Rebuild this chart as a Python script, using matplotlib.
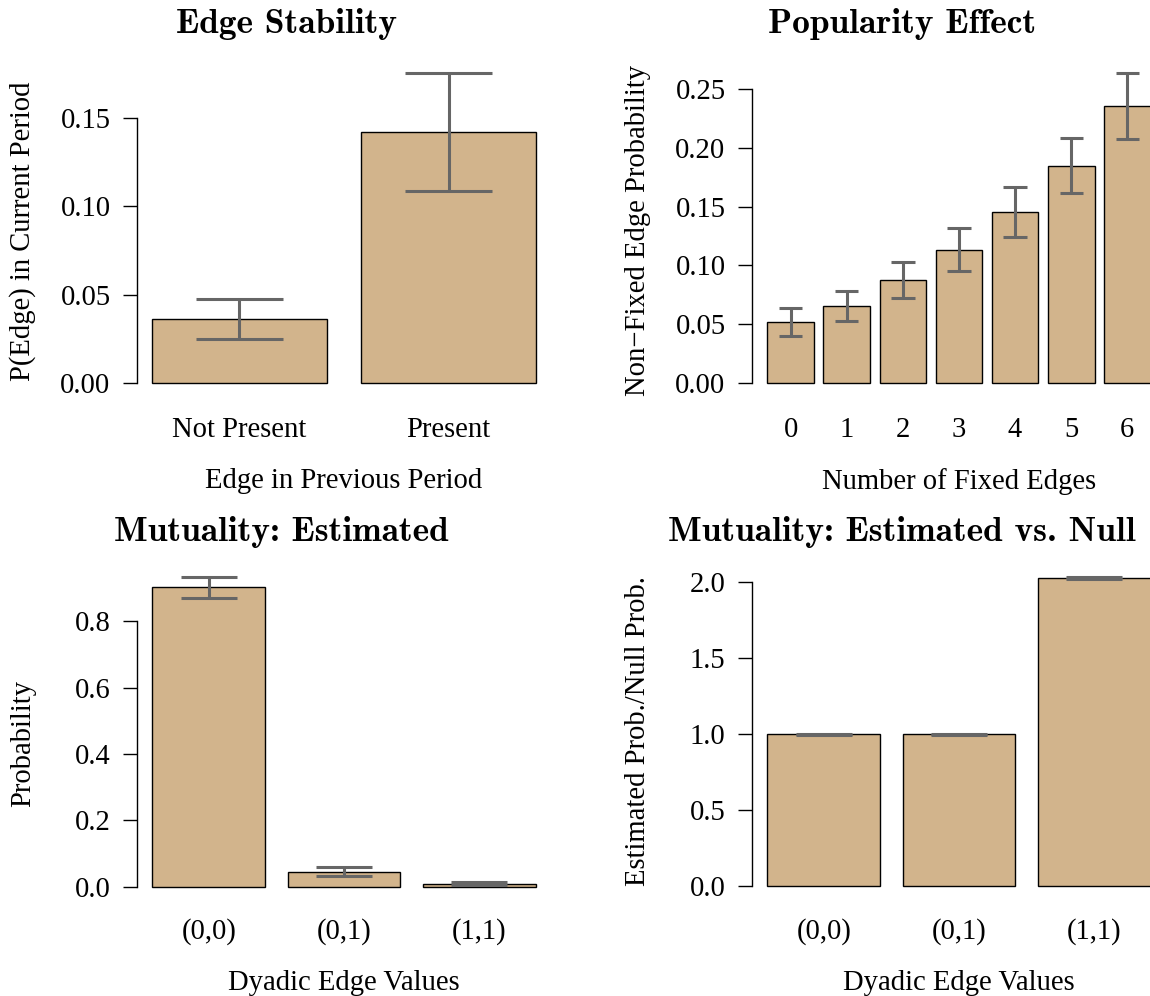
import numpy as np
import matplotlib
matplotlib.use("Agg")
import matplotlib.pyplot as plt

# Edge stability
stab_labels = ["Not Present", "Present"]
stab_est = [0.0362, 0.1421]
stab_lo = [0.0249, 0.1087]
stab_hi = [0.0475, 0.1755]

# Popularity effect
pop_labels = ["0", "1", "2", "3", "4", "5", "6"]
pop_est = [0.0515, 0.0653, 0.0876, 0.1133, 0.1452, 0.1847, 0.2355]
pop_lo = [0.0401, 0.0523, 0.0723, 0.0952, 0.1243, 0.1614, 0.2077]
pop_hi = [0.0634, 0.0786, 0.1029, 0.1318, 0.1667, 0.2083, 0.2637]

# Mutuality
mut_labels = ["(0,0)", "(0,1)", "(1,1)"]
mut_est = [0.902, 0.045, 0.0095]
mut_lo = [0.870, 0.032, 0.0055]
mut_hi = [0.932, 0.059, 0.0135]

ratio_est = [0.997, 0.997, 2.026]
ratio_lo = [0.994, 0.994, 2.019]
ratio_hi = [1.000, 1.000, 2.033]

W, H = 1150, 996
plt.rcParams["font.family"] = ["Liberation Serif", "DejaVu Serif"]
plt.rcParams["font.size"] = 20.6

fig = plt.figure(figsize=(W / 100, H / 100), dpi=100)


def panel(left, top, right, bottom, zero, scale, labels, est, lo, hi,
          yticks, yfmt, title, title_x, title_y, xlabel, ylabel, ylab_y):
    ax = fig.add_axes([left / W, 1 - bottom / H, (right - left) / W, (bottom - top) / H])
    n = len(labels)
    x = 0.7 + 1.2 * np.arange(n)
    rng = 1.2 * n - 0.2
    ax.set_xlim(0.2 - 0.04 * rng, 1.2 * n + 0.04 * rng)
    ax.set_ylim(-(bottom - zero) / scale, (zero - top) / scale)
    ax.bar(x, est, width=1, color="#D2B48C", edgecolor="black", linewidth=1.0, zorder=2)
    ax.vlines(x, lo, hi, color="#666666", linewidth=2.2, zorder=3, clip_on=False)
    ax.hlines(lo, x - 0.25, x + 0.25, color="#666666", linewidth=2.2, zorder=3, clip_on=False)
    ax.hlines(hi, x - 0.25, x + 0.25, color="#666666", linewidth=2.2, zorder=3, clip_on=False)

    for s in ["top", "right", "bottom"]:
        ax.spines[s].set_visible(False)
    ax.spines["left"].set_bounds(yticks[0], yticks[-1])
    ax.spines["left"].set_linewidth(1.0)
    ax.set_yticks(yticks)
    ax.set_yticklabels([yfmt.format(v) for v in yticks])
    ax.tick_params(axis="y", direction="out", length=10, width=1.0, pad=9)
    ax.set_xticks(x)
    ax.set_xticklabels(labels)
    ax.tick_params(axis="x", length=0, pad=14)
    ax.set_xlabel(xlabel, labelpad=18)
    ax.patch.set_visible(False)

    fig.text(title_x / W, 1 - title_y / H, title, family="cmb10", fontsize=25.5,
             ha="center", va="baseline")
    fig.text((left - 114) / W, 1 - ylab_y / H, ylabel, rotation=90,
             ha="center", va="center")
    return ax


panel(137, 61, 551, 398, 383, 1766.7, stab_labels, stab_est, stab_lo, stab_hi,
      [0, 0.05, 0.10, 0.15], "{:.2f}", "Edge Stability", 287, 33,
      "Edge in Previous Period", "P(Edge) in Current Period", 231)

panel(752, 61, 1166, 398, 383, 1176, pop_labels, pop_est, pop_lo, pop_hi,
      [0, 0.05, 0.10, 0.15, 0.20, 0.25], "{:.2f}", "Popularity Effect", 902, 33,
      "Number of Fixed Edges", "Non\u2212Fixed Edge Probability", 230)

panel(137, 565, 551, 899, 886.7, 332, mut_labels, mut_est, mut_lo, mut_hi,
      [0, 0.2, 0.4, 0.6, 0.8], "{:.1f}", "Mutuality: Estimated", 281, 541,
      "Dyadic Edge Values", "Probability", 743)

panel(752, 565, 1166, 899, 886, 152, mut_labels, ratio_est, ratio_lo, ratio_hi,
      [0, 0.5, 1.0, 1.5, 2.0], "{:.1f}", "Mutuality: Estimated vs. Null", 902, 541,
      "Dyadic Edge Values", "Estimated Prob./Null Prob.", 731)

fig.savefig("out.png", dpi=100)
